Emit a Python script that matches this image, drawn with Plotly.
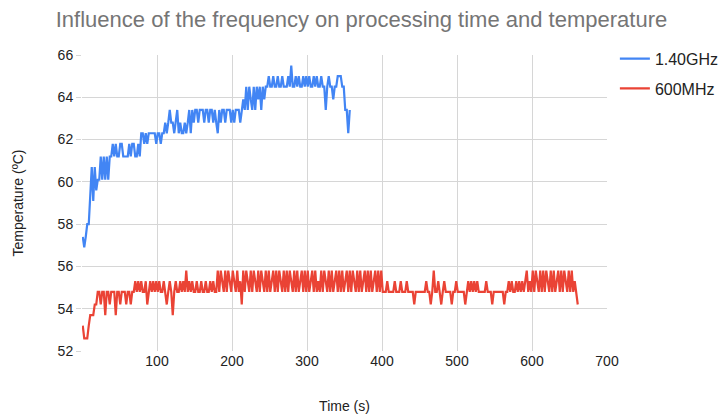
import plotly.graph_objects as go

# ---- data ----
series_names = ["1.40GHz", "600MHz"]

temp_1400mhz = [
    57.4, 56.9, 57.4, 58.0, 58.0, 59.1, 60.7, 59.1, 60.7, 59.6,
    60.1, 60.1, 61.2, 60.1, 61.2, 60.1, 61.2, 60.1, 61.2, 61.2,
    61.8, 61.2, 61.8, 61.2, 61.2, 61.8, 61.8, 61.2, 61.2, 61.2,
    61.2, 61.8, 61.2, 61.8, 61.8, 61.2, 61.2, 61.8, 61.2, 62.3,
    62.3, 61.8, 62.3, 61.8, 62.3, 62.3, 62.3, 62.3, 62.3, 61.8,
    62.3, 62.3, 61.8, 62.3, 62.3, 62.8, 62.3, 62.8, 63.4, 62.8,
    62.8, 62.3, 62.8, 63.4, 62.3, 62.8, 62.3, 62.3, 62.8, 62.3,
    62.8, 63.4, 62.3, 63.4, 62.8, 63.4, 63.4, 62.8, 63.4, 63.4,
    63.4, 62.8, 63.4, 63.4, 62.8, 63.4, 63.4, 62.8, 63.4, 62.8,
    62.3, 63.4, 62.8, 63.4, 63.4, 62.8, 63.4, 63.4, 63.4, 62.8,
    63.4, 62.8, 63.4, 63.4, 63.4, 62.8, 63.4, 63.9, 63.4, 64.5,
    63.4, 64.5, 63.9, 63.4, 64.5, 63.4, 64.5, 63.9, 64.5, 63.4,
    64.5, 63.9, 64.5, 64.5, 65.0, 64.5, 64.5, 65.0, 64.5, 64.5,
    65.0, 64.5, 64.5, 65.0, 64.5, 64.5, 64.5, 65.0, 64.5, 65.5,
    64.5, 64.5, 65.0, 64.5, 65.0, 64.5, 64.5, 65.0, 64.5, 65.0,
    64.5, 65.0, 64.5, 64.5, 65.0, 64.5, 65.0, 64.5, 64.5, 65.0,
    64.5, 64.5, 63.4, 64.5, 65.0, 64.5, 64.5, 63.9, 64.5, 64.5,
    65.0, 65.0, 65.0, 64.5, 64.5, 63.4, 63.4, 62.3, 63.4,
]
time_1400mhz = list(range(1, 1 + 2 * len(temp_1400mhz), 2))

temp_600mhz = [
    53.2, 52.6, 52.6, 52.6, 53.2, 53.7, 53.7, 53.7, 54.2, 54.2, 54.8,
    54.8, 54.2, 54.8, 54.8, 53.7, 54.8, 54.8, 54.2, 54.8, 54.8,
    54.8, 53.7, 54.8, 54.8, 54.2, 54.8, 54.8, 54.8, 54.2, 54.8,
    54.8, 54.2, 54.8, 54.8, 55.3, 54.8, 55.3, 54.8, 55.3, 54.8,
    54.8, 55.3, 54.2, 54.8, 55.3, 54.8, 55.3, 54.8, 55.3, 54.8,
    55.3, 54.8, 54.8, 55.3, 54.8, 54.2, 54.8, 55.3, 54.8, 53.7,
    54.8, 55.3, 54.8, 54.8, 55.3, 54.8, 55.3, 54.8, 55.8, 54.8,
    55.3, 54.8, 55.3, 54.8, 54.8, 55.3, 54.8, 54.8, 55.3, 54.8,
    54.8, 55.3, 54.8, 54.8, 55.3, 54.8, 55.3, 54.8, 54.8, 55.8,
    54.8, 55.8, 55.3, 54.8, 55.8, 54.8, 55.8, 55.3, 54.8, 55.8,
    55.3, 54.8, 55.8, 54.8, 55.3, 54.2, 55.8, 54.8, 55.8, 55.3,
    54.8, 55.8, 54.8, 55.8, 55.3, 54.8, 55.8, 54.8, 55.8, 55.3,
    54.8, 55.8, 54.8, 55.8, 54.8, 55.3, 55.8, 54.8, 55.8, 54.8,
    55.8, 55.3, 54.8, 55.8, 54.8, 55.8, 54.8, 55.8, 55.3, 54.8,
    55.8, 54.8, 55.8, 54.8, 55.3, 55.8, 54.8, 55.8, 54.8, 55.8,
    54.8, 55.3, 55.8, 54.8, 55.8, 54.8, 55.3, 54.8, 55.8, 54.8,
    55.8, 55.3, 54.8, 55.8, 54.8, 55.8, 54.8, 55.3, 55.8, 54.8,
    55.8, 54.8, 55.8, 54.8, 55.3, 55.8, 54.8, 55.8, 54.8, 55.8,
    55.3, 54.8, 55.8, 54.8, 55.8, 54.8, 55.3, 55.8, 54.8, 55.8,
    54.8, 55.8, 54.8, 55.3, 55.8, 54.8, 55.8, 54.8, 55.8, 54.8,
    54.8, 54.8, 55.3, 54.8, 54.8, 54.8, 54.8, 55.3, 54.8, 54.8,
    54.8, 55.3, 54.8, 54.8, 54.8, 55.3, 54.8, 54.8, 54.8, 54.8,
    54.2, 54.8, 54.8, 54.8, 54.8, 54.8, 54.8, 54.8, 55.3, 54.8,
    54.8, 54.2, 54.8, 55.8, 54.8, 54.8, 55.3, 54.8, 54.2, 54.8,
    55.3, 54.8, 54.8, 54.8, 54.8, 54.2, 54.8, 54.8, 55.3, 54.8,
    54.8, 54.8, 54.8, 54.8, 54.2, 54.8, 55.3, 54.8, 55.3, 54.8,
    55.3, 54.8, 55.3, 54.8, 54.8, 54.8, 54.8, 54.8, 55.3, 54.8,
    54.8, 54.8, 54.2, 54.8, 54.8, 54.8, 54.8, 54.8, 54.8, 54.8,
    54.2, 54.8, 54.8, 55.3, 54.8, 55.3, 54.8, 54.8, 55.3, 54.8,
    55.3, 54.8, 55.3, 54.8, 55.3, 55.8, 54.8, 55.3, 54.8, 55.8,
    54.8, 55.8, 55.3, 54.8, 55.8, 54.8, 55.8, 54.8, 55.8, 55.3,
    54.8, 55.8, 54.8, 55.8, 54.8, 55.3, 55.8, 54.8, 55.8, 54.8,
    55.8, 55.3, 54.8, 55.8, 54.8, 55.8, 54.8, 55.3, 54.8, 54.2,
]
time_600mhz = list(range(1, 1 + 2 * len(temp_600mhz), 2))

x_ticks = [100, 200, 300, 400, 500, 600, 700]
y_ticks = [52, 54, 56, 58, 60, 62, 64, 66]
colors = ["#4285F4", "#EA4335"]

FONT = "Liberation Sans, Arial, sans-serif"
GRID = "#d6d6d6"
TXT = "#222222"

fig = go.Figure()
for name, xs, ys, col in [
    (series_names[0], time_1400mhz, temp_1400mhz, colors[0]),
    (series_names[1], time_600mhz, temp_600mhz, colors[1]),
]:
    fig.add_trace(go.Scatter(
        x=xs, y=ys, name=name, mode="lines", legendgroup=name,
        line=dict(color=col, width=2.2),
    ))

fig.update_layout(
    width=723, height=414,
    margin=dict(l=82, r=116, t=55, b=63, autoexpand=False),
    paper_bgcolor="white", plot_bgcolor="white",
    font=dict(family=FONT, size=14, color=TXT),
    title=dict(
        text="Influence of the frequency on processing time and temperature",
        x=0.5, xref="container", xanchor="center",
        y=1 - 19 / 414, yref="container", yanchor="middle",
        font=dict(family=FONT, size=22, color="#757575"),
    ),
    legend=dict(
        x=1.015, xanchor="left", y=1.045, yanchor="top",
        font=dict(family=FONT, size=16, color=TXT),
        tracegroupgap=6, bgcolor="rgba(0,0,0,0)",
    ),
    showlegend=True,
)

fig.update_xaxes(
    range=[0, 700], tickvals=x_ticks, showgrid=True, gridcolor=GRID,
    gridwidth=1, zeroline=False, showline=False, ticks="",
    tickfont=dict(size=14, color=TXT),
    title=dict(text="Time (s)", standoff=34, font=dict(size=14, color=TXT)),
    automargin=False,
)
fig.update_yaxes(
    range=[52, 66], tickvals=y_ticks, showgrid=True, gridcolor=GRID,
    gridwidth=1, zeroline=False, showline=False, ticks="outside",
    ticklen=5, tickcolor=GRID,
    tickfont=dict(size=14, color=TXT),
    title=dict(text="Temperature (ºC)", standoff=30, font=dict(size=14, color=TXT)),
    automargin=False,
)

fig.write_html(
    "out.html",
    config={"displayModeBar": False},
    post_script="document.body.style.margin='0';document.body.style.overflow='hidden';",
)
